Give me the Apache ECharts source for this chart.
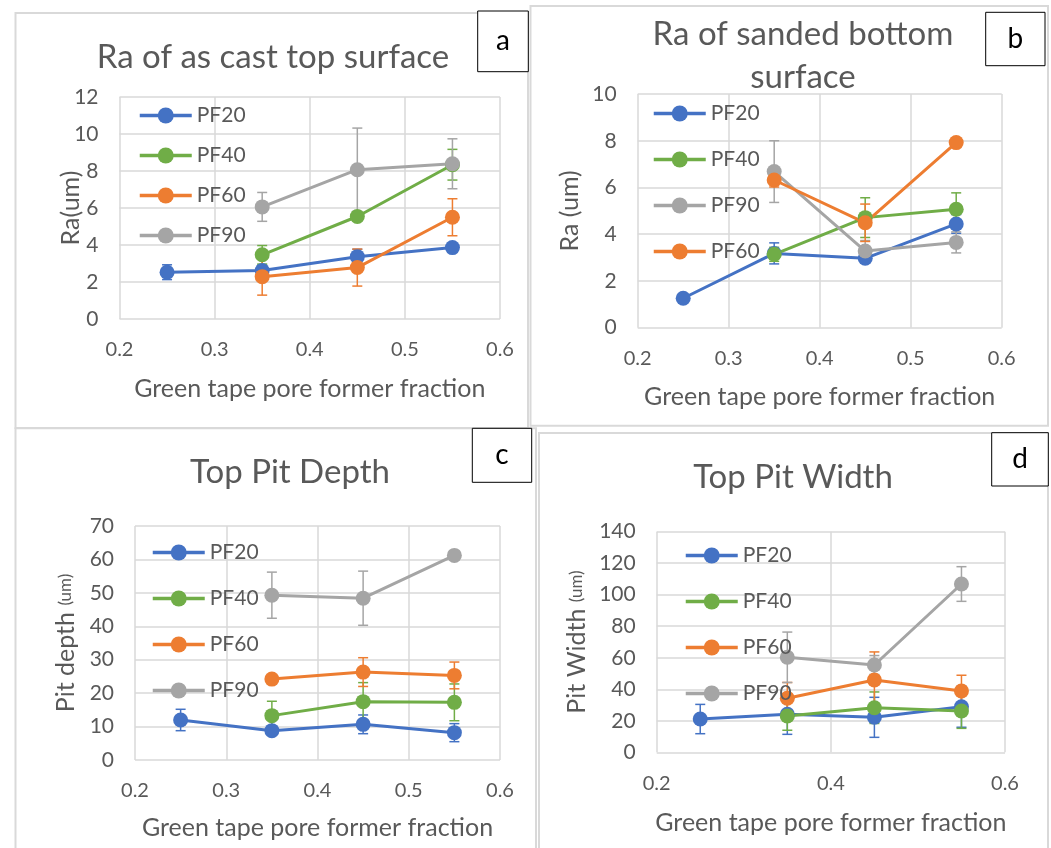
<!DOCTYPE html>
<html>
<head>
<meta charset="utf-8">
<script src="https://cdn.jsdelivr.net/npm/echarts@6/dist/echarts.min.js"></script>
<style>
  html, body { margin: 0; padding: 0; background: #fff; }
  #main { width: 1051px; height: 848px; }
</style>
</head>
<body>
<div id="main"></div>
<script>
// x positions (green tape pore former fraction)
const xFrac = [0.25, 0.35, 0.45, 0.55];

// a: Ra of as cast top surface
const aPF20 = [2.53, 2.62, 3.37, 3.86];
const aPF20Err = [0.4, 0.3, 0.4, 0.2];
const aPF40 = [null, 3.47, 5.54, 8.34];
const aPF40Err = [null, 0.5, 0.2, 0.83];
const aPF60 = [null, 2.29, 2.78, 5.5];
const aPF60Err = [null, 1.0, 1.0, 1.0];
const aPF90 = [null, 6.06, 8.07, 8.39];
const aPF90Err = [null, 0.78, 2.25, 1.35];

// b: Ra of sanded bottom surface
const bPF20 = [1.26, 3.18, 2.97, 4.44];
const bPF20Err = [0, 0.45, 0.2, 0.4];
const bPF40 = [null, 3.14, 4.71, 5.07];
const bPF40Err = [null, 0.3, 0.85, 0.7];
const bPF90 = [null, 6.68, 3.28, 3.65];
const bPF90Err = [null, 1.32, 0.45, 0.45];
const bPF60 = [null, 6.32, 4.49, 7.92];
const bPF60Err = [null, 0.3, 0.8, 0.2];

// c: Top pit depth
const cPF20 = [11.97, 8.78, 10.67, 8.18];
const cPF20Err = [3.2, 1.0, 2.8, 2.7];
const cPF40 = [null, 13.27, 17.45, 17.25];
const cPF40Err = [null, 4.3, 5.7, 5.5];
const cPF60 = [null, 24.2, 26.3, 25.3];
const cPF60Err = [null, 0, 4.3, 4.0];
const cPF90 = [null, 49.3, 48.4, 61.2];
const cPF90Err = [null, 6.9, 8.1, 0.5];

// d: Top pit width
const dPF20 = [21.1, 24.1, 22.2, 28.9];
const dPF20Err = [9.3, 12.7, 12.7, 13];
const dPF40 = [null, 23.0, 28.3, 26.2];
const dPF40Err = [null, 9, 10, 11];
const dPF60 = [null, 34.3, 45.9, 38.9];
const dPF60Err = [null, 10, 17.8, 10];
const dPF90 = [null, 60.3, 55.4, 106.8];
const dPF90Err = [null, 16, 6, 11];

const colors = { PF20: '#4472C4', PF40: '#70AD47', PF60: '#ED7D31', PF90: '#A5A5A5' };
const txt = '#595959';
const font = 'Lato';

const panels = [
  {
    grid: { left: 119.5, top: 97, width: 380.5, height: 222 },
    yMax: 12, yStep: 2, xStep: 0.1,
    yName: 'Ra(um)', yGap: 36, xGap: 57.5,
    legend: { left: 133, top: 100, gap: 19 },
    lines: [['PF20', aPF20, aPF20Err], ['PF40', aPF40, aPF40Err], ['PF60', aPF60, aPF60Err], ['PF90', aPF90, aPF90Err]]
  },
  {
    grid: { left: 637.7, top: 94, width: 364, height: 233.7 },
    yMax: 10, yStep: 2, xStep: 0.1,
    yName: 'Ra (um)', yGap: 55, xGap: 56.5,
    legend: { left: 647, top: 98, gap: 25 },
    lines: [['PF20', bPF20, bPF20Err], ['PF40', bPF40, bPF40Err], ['PF90', bPF90, bPF90Err], ['PF60', bPF60, bPF60Err]]
  },
  {
    grid: { left: 135, top: 526, width: 365, height: 234 },
    yMax: 70, yStep: 10, xStep: 0.1,
    yName: 'Pit depth {s|(um)}', yGap: 56.5, xGap: 55.5,
    legend: { left: 146, top: 537, gap: 25 },
    lines: [['PF20', cPF20, cPF20Err], ['PF40', cPF40, cPF40Err], ['PF60', cPF60, cPF60Err], ['PF90', cPF90, cPF90Err]]
  },
  {
    grid: { left: 656.7, top: 531.7, width: 348.3, height: 220.6 },
    yMax: 140, yStep: 20, xStep: 0.2,
    yName: 'Pit Width {s|(um)}', yGap: 67.5, xGap: 58.5,
    legend: { left: 679, top: 540, gap: 25 },
    lines: [['PF20', dPF20, dPF20Err], ['PF40', dPF40, dPF40Err], ['PF60', dPF60, dPF60Err], ['PF90', dPF90, dPF90Err]]
  }
];

function points(vals) {
  return xFrac.map((x, i) => vals[i] == null ? null : [x, vals[i]]).filter(Boolean);
}
function errPoints(vals, errs) {
  return xFrac.map((x, i) => vals[i] == null ? null : [x, vals[i], errs[i]]).filter(Boolean);
}
function errRender(color) {
  return function (params, api) {
    const x = api.value(0), y = api.value(1), e = api.value(2);
    const hi = api.coord([x, y + e]);
    const lo = api.coord([x, y - e]);
    const w = 5;
    const st = { stroke: color, lineWidth: 1.5 };
    return {
      type: 'group',
      children: [
        { type: 'line', shape: { x1: hi[0], y1: hi[1], x2: lo[0], y2: lo[1] }, style: st },
        { type: 'line', shape: { x1: hi[0] - w, y1: hi[1], x2: hi[0] + w, y2: hi[1] }, style: st },
        { type: 'line', shape: { x1: lo[0] - w, y1: lo[1], x2: lo[0] + w, y2: lo[1] }, style: st }
      ]
    };
  };
}

const grid = [], xAxis = [], yAxis = [], series = [], legend = [];
panels.forEach((p, k) => {
  grid.push(p.grid);
  xAxis.push({
    type: 'value', gridIndex: k, min: 0.2, max: 0.6, interval: p.xStep,
    name: 'Green tape pore former fraction', nameLocation: 'middle', nameGap: p.xGap,
    nameMoveOverlap: false,
    nameTextStyle: { color: txt, fontSize: 25, fontFamily: font },
    axisLine: { show: false }, axisTick: { show: false },
    axisLabel: { color: txt, fontSize: 20, fontFamily: font, margin: 21, formatter: v => v.toFixed(1) },
    splitLine: { lineStyle: { color: '#d9d9d9', width: 1.5 } }
  });
  yAxis.push({
    type: 'value', gridIndex: k, min: 0, max: p.yMax, interval: p.yStep,
    name: p.yName, nameLocation: 'middle', nameGap: p.yGap, nameRotate: 90,
    nameMoveOverlap: false,
    nameTextStyle: { color: txt, fontSize: 25, fontFamily: font, rich: { s: { fontSize: 17, color: txt, fontFamily: font } } },
    axisLine: { show: false }, axisTick: { show: false },
    axisLabel: { color: txt, fontSize: 21, fontFamily: font, margin: 21 },
    splitLine: { lineStyle: { color: '#d9d9d9', width: 1.5 } }
  });
  p.lines.forEach(([name, vals, errs]) => {
    const c = colors[name];
    series.push({
      name: name, type: 'line', xAxisIndex: k, yAxisIndex: k,
      data: points(vals), symbol: 'circle', symbolSize: 15,
      itemStyle: { color: c }, lineStyle: { color: c, width: 3 },
      emphasis: { disabled: true }
    });
    series.push({
      name: name + ' err', type: 'custom', xAxisIndex: k, yAxisIndex: k,
      data: errPoints(vals, errs), renderItem: errRender(c),
      encode: { x: 0, y: 1 }, silent: true
    });
  });
  legend.push({
    orient: 'vertical', left: p.legend.left, top: p.legend.top, itemGap: p.legend.gap,
    itemWidth: 52, itemHeight: 20,
    lineStyle: { width: 3.5 },
    data: p.lines.map(l => l[0]),
    textStyle: { color: txt, fontSize: 21, fontFamily: font }
  });
});

function frame(x, y, w, h) {
  return { type: 'rect', z: 0, shape: { x: x, y: y, width: w, height: h },
           style: { fill: null, stroke: '#d9d9d9', lineWidth: 2 } };
}
function title(x, y, text) {
  return { type: 'text', z: 50, x: x, y: y,
           style: { text: text, fill: txt, font: '33px Lato', align: 'center', verticalAlign: 'middle', lineHeight: 43 } };
}
function tag(x, y, w, h, letter) {
  return { type: 'group', z: 100, children: [
    { type: 'rect', shape: { x: x, y: y, width: w, height: h }, style: { fill: '#fff', stroke: '#000', lineWidth: 1 } },
    { type: 'text', x: x + w / 2, y: y + h / 2,
      style: { text: letter, fill: '#000', font: '28px Lato', align: 'center', verticalAlign: 'middle' } }
  ] };
}

const graphic = [
  frame(15.5, 13, 512.5, 415),
  frame(530.5, 6, 517.5, 419.7),
  frame(15.5, 428.3, 520.5, 430),
  frame(539, 433, 509, 430),
  title(273, 57, 'Ra of as cast top surface'),
  title(803, 56, 'Ra of sanded bottom\nsurface'),
  title(290, 472, 'Top Pit Depth'),
  title(793, 477, 'Top Pit Width'),
  tag(477.7, 11, 50.6, 60.7, 'a'),
  tag(985.7, 12.3, 59.3, 53.4, 'b'),
  tag(472.3, 428.3, 59.4, 54, 'c'),
  tag(991.7, 432.7, 56.6, 53.3, 'd')
];

const chart = echarts.init(document.getElementById('main'));
chart.setOption({
  animation: false,
  textStyle: { fontFamily: font },
  grid: grid, xAxis: xAxis, yAxis: yAxis,
  legend: legend, series: series, graphic: graphic
});
</script>
</body>
</html>
